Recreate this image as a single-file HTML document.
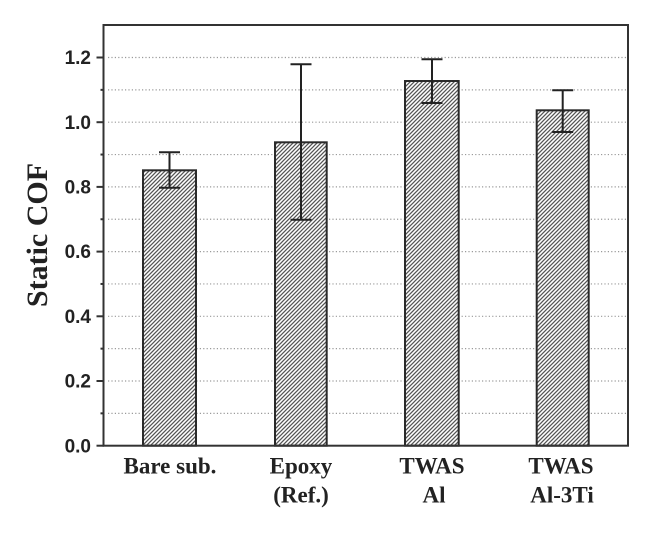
<!DOCTYPE html>
<html><head><meta charset="utf-8"><style>
html,body{margin:0;padding:0;background:#fff;}
svg{display:block;}
</style></head><body>
<svg width="660" height="533" viewBox="0 0 660 533" xmlns="http://www.w3.org/2000/svg">
<defs>
<pattern id="h" patternUnits="userSpaceOnUse" width="4" height="4">
<rect width="4" height="4" fill="#fff"/>
<path d="M-1,1 L1,-1 M0,4 L4,0 M3,5 L5,3" stroke="#555" stroke-width="1.3"/>
</pattern>
</defs>
<rect width="660" height="533" fill="#fff"/>
<!-- grid -->
<g stroke="#9a9a9a" stroke-width="1.2" stroke-dasharray="1.2 2.2">
<line x1="108" x2="626" y1="413.35" y2="413.35"/>
<line x1="108" x2="626" y1="381" y2="381"/>
<line x1="108" x2="626" y1="348.65" y2="348.65"/>
<line x1="108" x2="626" y1="316.3" y2="316.3"/>
<line x1="108" x2="626" y1="283.95" y2="283.95"/>
<line x1="108" x2="626" y1="251.6" y2="251.6"/>
<line x1="108" x2="626" y1="219.25" y2="219.25"/>
<line x1="108" x2="626" y1="186.9" y2="186.9"/>
<line x1="108" x2="626" y1="154.55" y2="154.55"/>
<line x1="108" x2="626" y1="122.2" y2="122.2"/>
<line x1="108" x2="626" y1="89.85" y2="89.85"/>
<line x1="108" x2="626" y1="57.5" y2="57.5"/>
</g>
<!-- bars -->
<g stroke="#2a2a2a" stroke-width="2" fill="url(#h)">
<rect x="143" y="170.3" width="53" height="275.4"/>
<rect x="275" y="142.3" width="51.7" height="303.4"/>
<rect x="405" y="81" width="53.7" height="364.7"/>
<rect x="536.7" y="110.3" width="52" height="335.4"/>
</g>
<!-- error bars -->
<g stroke="#222" stroke-width="2" fill="none">
<path d="M169.5,152.3 V187.7 M159,152.3 H180 M159,187.7 H180"/>
<path d="M301,64.3 V219.7 M290.5,64.3 H311.5 M290.5,219.7 H311.5"/>
<path d="M432,59.3 V103 M421.5,59.3 H442.5 M421.5,103 H442.5"/>
<path d="M562.7,90.3 V132 M552.2,90.3 H573.2 M552.2,132 H573.2"/>
</g>
<!-- frame -->
<rect x="103.5" y="25" width="524.5" height="420.7" fill="none" stroke="#333" stroke-width="2"/>
<!-- ticks -->
<g stroke="#333" stroke-width="2">
<line x1="96.5" x2="104" y1="445.7" y2="445.7"/>
<line x1="96.5" x2="104" y1="381" y2="381"/>
<line x1="96.5" x2="104" y1="316.3" y2="316.3"/>
<line x1="96.5" x2="104" y1="251.6" y2="251.6"/>
<line x1="96.5" x2="104" y1="186.9" y2="186.9"/>
<line x1="96.5" x2="104" y1="122.2" y2="122.2"/>
<line x1="96.5" x2="104" y1="57.5" y2="57.5"/>
<line x1="100.5" x2="104" y1="413.35" y2="413.35"/>
<line x1="100.5" x2="104" y1="348.65" y2="348.65"/>
<line x1="100.5" x2="104" y1="283.95" y2="283.95"/>
<line x1="100.5" x2="104" y1="219.25" y2="219.25"/>
<line x1="100.5" x2="104" y1="154.55" y2="154.55"/>
<line x1="100.5" x2="104" y1="89.85" y2="89.85"/>
</g>
<!-- tick labels -->
<g font-family="'Liberation Sans', Arial, sans-serif" font-weight="bold" font-size="19" fill="#222" text-anchor="end">
<text x="91" y="452.3">0.0</text>
<text x="91" y="387.6">0.2</text>
<text x="91" y="322.9">0.4</text>
<text x="91" y="258.2">0.6</text>
<text x="91" y="193.5">0.8</text>
<text x="91" y="128.8">1.0</text>
<text x="91" y="64.1">1.2</text>
</g>
<!-- y label -->
<text transform="translate(47,235) rotate(-90)" font-family="'Liberation Serif', 'Times New Roman', serif" font-weight="bold" font-size="30" fill="#222" text-anchor="middle">Static COF</text>
<!-- x labels -->
<g font-family="'Liberation Serif', 'Times New Roman', serif" font-weight="bold" font-size="23" fill="#222" text-anchor="middle">
<text x="170" y="473.3">Bare sub.</text>
<text x="301" y="473.3">Epoxy</text>
<text x="301" y="502.3">(Ref.)</text>
<text x="432" y="473.3">TWAS</text>
<text x="434" y="502.3">Al</text>
<text x="561" y="473.3">TWAS</text>
<text x="562" y="502.3">Al-3Ti</text>
</g>
</svg>
</body></html>
